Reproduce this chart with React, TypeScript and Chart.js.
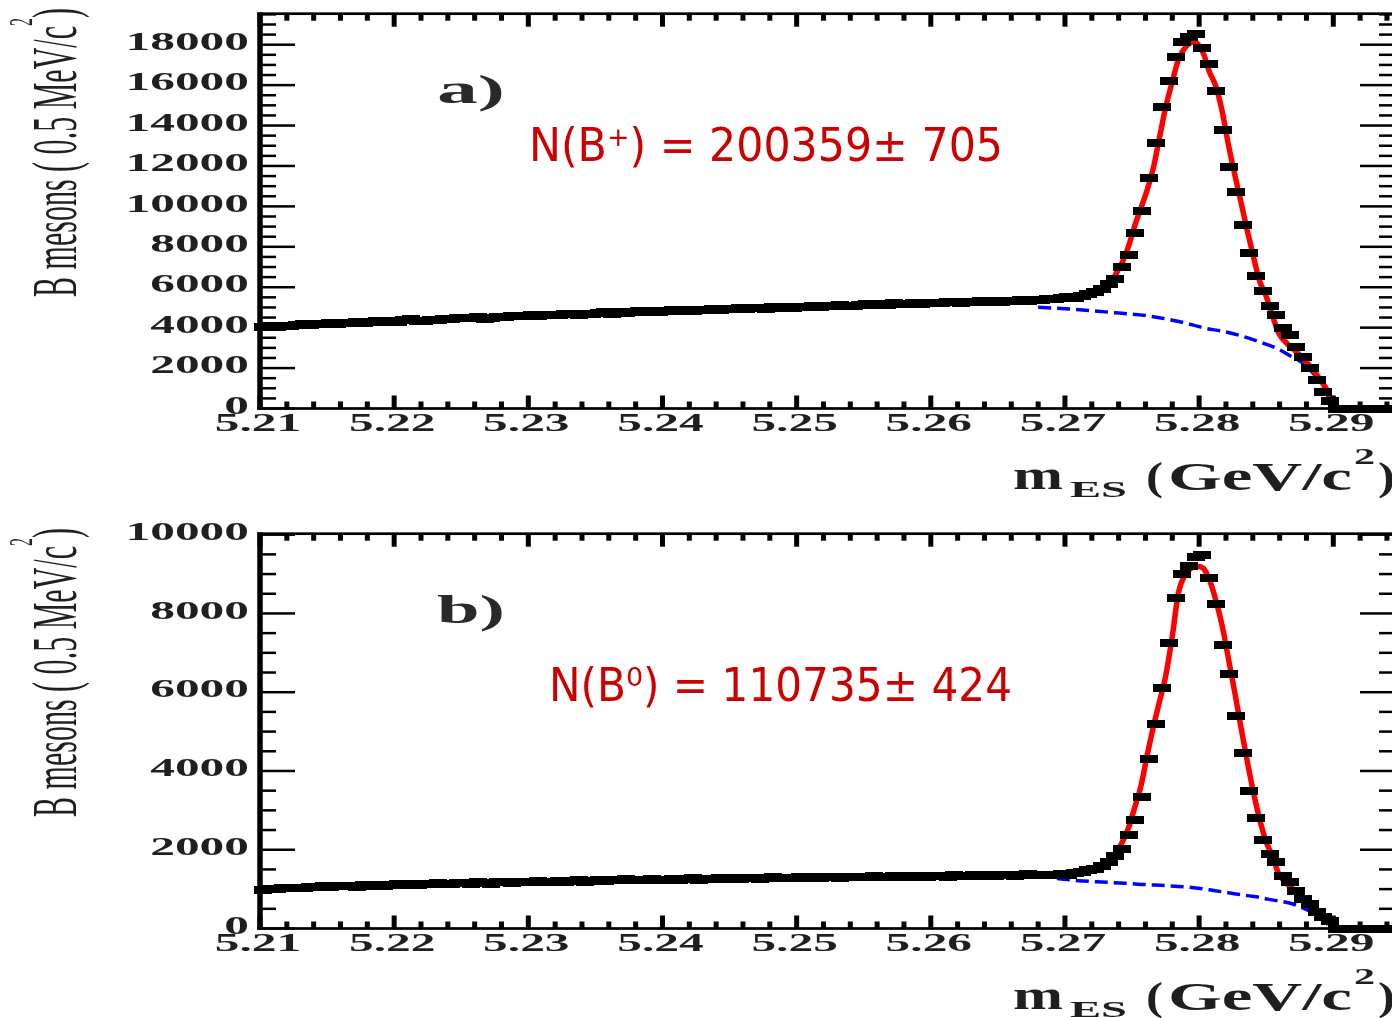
import React, { useEffect, useRef } from "react";
import { Chart, registerables } from "chart.js";

Chart.register(...registerables);

// ---------------- axis set-up ----------------
const X_MIN = 5.21;
const X_MAX = 5.2946;
const BIN_WIDTH = 0.0005;
const X_TICK_VALUES = [5.21, 5.22, 5.23, 5.24, 5.25, 5.26, 5.27, 5.28, 5.29];
const X_TICK_LABELS = ["5.21", "5.22", "5.23", "5.24", "5.25", "5.26", "5.27", "5.28", "5.29"];
const X_MINOR_STEP = 0.002;
const Y_MINOR_STEP = 500;

const TOP_Y_MAX = 19534;
const TOP_Y_TICKS = [0, 2000, 4000, 6000, 8000, 10000, 12000, 14000, 16000, 18000];
const TOP_Y_LABELS = ["0", "2000", "4000", "6000", "8000", "10000", "12000", "14000", "16000", "18000"];
const BOTTOM_Y_MAX = 10025;
const BOTTOM_Y_TICKS = [0, 2000, 4000, 6000, 8000, 10000];
const BOTTOM_Y_LABELS = ["0", "2000", "4000", "6000", "8000", "10000"];

// ---------------- panel a) B+ ----------------
const TOP_COUNTS = [
  4010, 4060, 4040, 4100, 4080, 4130, 4160, 4120, 4200, 4170,
  4220, 4180, 4250, 4230, 4300, 4220, 4270, 4340, 4290, 4330,
  4300, 4390, 4420, 4340, 4330, 4400, 4380, 4450, 4410, 4460,
  4480, 4470, 4520, 4450, 4470, 4540, 4520, 4560, 4600, 4570,
  4630, 4590, 4610, 4650, 4620, 4670, 4660, 4640, 4690, 4700,
  4740, 4790, 4700, 4760, 4720, 4780, 4800, 4770, 4810, 4790,
  4820, 4850, 4800, 4870, 4840, 4880, 4860, 4910, 4880, 4900,
  4920, 4960, 4900, 4950, 4990, 4940, 5000, 4970, 5020, 4990,
  5030, 5010, 5060, 5040, 5090, 5060, 5110, 5070, 5080, 5120,
  5150, 5100, 5170, 5130, 5200, 5150, 5180, 5220, 5190, 5210,
  5240, 5210, 5260, 5290, 5230, 5270, 5250, 5300, 5280, 5310,
  5290, 5340, 5310, 5360, 5330, 5390, 5370,
  5420, 5400, 5470, 5520, 5480, 5560, 5680, 5740, 5930, 6150,
  6420, 6990, 7600, 8680, 9780, 11400, 13150, 14900, 16200, 17400,
  18150, 18380, 18530, 17830, 17050, 15700, 13800, 11950, 10700, 9100,
  7700, 6560, 5800, 5080, 4620, 4000, 3620, 3040, 2560, 1980,
  1420, 800, 380,
  0, 0, 0, 0, 0, 0, 0, 0, 0,
];
const TOP_FIT_X = [
  5.268, 5.27, 5.2715, 5.2725, 5.2733, 5.2738, 5.2743, 5.27475, 5.2752, 5.27567,
  5.27613, 5.27659, 5.27706, 5.27753, 5.278, 5.27845, 5.279, 5.27965, 5.2803, 5.28078,
  5.28125, 5.28171, 5.28217, 5.28264, 5.2831, 5.28357, 5.28403, 5.2845, 5.28496, 5.28544,
  5.28593, 5.2865, 5.287, 5.2875, 5.288, 5.2885, 5.289, 5.2895, 5.2898, 5.29,
];
const TOP_FIT_Y = [
  5400, 5500, 5620, 5800, 6100, 6660, 7270, 8050, 9040, 9930,
  10820, 11900, 13450, 14970, 16170, 17250, 17900, 18150, 17600, 16630,
  15940, 14730, 13100, 11620, 10270, 8850, 7560, 6330, 5620, 4650,
  3730, 3250, 2950, 2650, 2300, 1900, 1450, 950, 500, 0,
];
const TOP_BKG_X = [
  5.268, 5.27, 5.272, 5.274, 5.276, 5.278, 5.2795, 5.2805, 5.2817, 5.283,
  5.2847, 5.2857, 5.2863, 5.2868, 5.2877, 5.2882, 5.2891, 5.2896, 5.2898,
];
const TOP_BKG_Y = [
  5010, 4940, 4840, 4720, 4600, 4370, 4140, 3960, 3830, 3620,
  3250, 3000, 2800, 2600, 2260, 1950, 1250, 600, 0,
];

// ---------------- panel b) B0 ----------------
const BOTTOM_COUNTS = [
  990, 1010, 1000, 1030, 1020, 1040, 1030, 1060, 1050, 1070,
  1060, 1080, 1070, 1090, 1060, 1100, 1080, 1110, 1090, 1100,
  1120, 1100, 1130, 1110, 1140, 1120, 1150, 1130, 1120, 1150,
  1150, 1140, 1170, 1160, 1130, 1170, 1180, 1160, 1190, 1170,
  1180, 1200, 1170, 1190, 1210, 1180, 1200, 1220, 1190, 1210,
  1220, 1210, 1240, 1220, 1250, 1230, 1240, 1220, 1250, 1240,
  1230, 1260, 1240, 1250, 1270, 1240, 1260, 1250, 1280, 1260,
  1270, 1260, 1290, 1270, 1250, 1280, 1300, 1270, 1290, 1280,
  1300, 1280, 1310, 1290, 1300, 1320, 1290, 1310, 1300, 1320,
  1310, 1330, 1300, 1320, 1340, 1310, 1330, 1320, 1340, 1310,
  1330, 1340, 1320, 1350, 1330, 1340, 1360, 1330, 1350, 1340,
  1350, 1370, 1340, 1360, 1380, 1350, 1370,
  1370, 1350, 1380, 1370, 1400, 1440, 1480, 1520, 1590, 1700,
  1830, 2010, 2380, 2760, 3350, 4300, 5200, 6100, 7250, 8400,
  9000, 9200, 9440, 9490, 8900, 8230, 7200, 6450, 5400, 4450,
  3500, 2800, 2250, 1900, 1680, 1330, 1170, 960, 760, 620,
  420, 300, 200,
  0, 0, 0, 0, 0, 0, 0, 0, 0,
];
const BOTTOM_FIT_X = [
  5.268, 5.27, 5.272, 5.273, 5.2737, 5.27424, 5.27472, 5.27517, 5.27567, 5.27614,
  5.27659, 5.27703, 5.2775, 5.278, 5.27845, 5.279, 5.2798, 5.2803, 5.28078, 5.28125,
  5.28171, 5.28217, 5.28264, 5.2831, 5.28357, 5.28403, 5.2845, 5.28496, 5.2855, 5.28593,
  5.2865, 5.287, 5.2875, 5.288, 5.2885, 5.289, 5.2895, 5.2899, 5.29,
];
const BOTTOM_FIT_Y = [
  1360, 1390, 1500, 1640, 1860, 2170, 2540, 3040, 3630, 4420,
  5120, 5740, 6400, 7420, 8510, 9000, 9200, 9150, 8840, 8330,
  7700, 6880, 6030, 5140, 4280, 3490, 2790, 2240, 1800, 1390,
  1150, 1000, 830, 680, 520, 360, 200, 60, 0,
];
const BOTTOM_BKG_X = [
  5.2694, 5.271, 5.2727, 5.2745, 5.276, 5.2775, 5.2796, 5.2812, 5.2826, 5.2836,
  5.2847, 5.2851, 5.2861, 5.2868, 5.2875, 5.2883, 5.289, 5.2895, 5.2898,
];
const BOTTOM_BKG_Y = [
  1270, 1215, 1180, 1150, 1115, 1090, 1035, 960, 885, 835,
  780, 745, 690, 640, 555, 430, 280, 140, 0,
];

// ---------------- layout constants ----------------
const CANVAS_W = 1400;
const AREA_LEFT = 260;
const AREA_RIGHT = 1396;
const AREA_TOP = 13.7;
const AREA_BOTTOM = 408.5;

type PanelCfg = {
  counts: number[];
  fitX: number[];
  fitY: number[];
  bkgX: number[];
  bkgY: number[];
  yMax: number;
  yTicks: number[];
  yLabels: string[];
  tag: string;
  yieldText: string;
  yieldLeft: number;
  yieldBase: number;
  yieldWidth: number;
};

const TICK_FONT = 'bold 26px "Liberation Serif"';
const TEXT_COLOR = "#1f1f1f";

function drawFit(ctx: CanvasRenderingContext2D, text: string, left: number, base: number, font: string, width: number, color: string) {
  ctx.save();
  ctx.font = font;
  ctx.fillStyle = color;
  ctx.textAlign = "left";
  ctx.textBaseline = "alphabetic";
  const w = ctx.measureText(text).width;
  ctx.translate(left, base);
  ctx.scale(width / w, 1);
  ctx.fillText(text, 0, 0);
  ctx.restore();
}

function drawStretch(ctx: CanvasRenderingContext2D, text: string, x: number, y: number, font: string, sx: number, align: CanvasTextAlign) {
  ctx.save();
  ctx.font = font;
  ctx.fillStyle = TEXT_COLOR;
  ctx.textAlign = align;
  ctx.textBaseline = "middle";
  ctx.translate(x, y);
  ctx.scale(sx, 1);
  ctx.fillText(text, 0, 0);
  ctx.restore();
}

function makeFramePlugin(cfg: PanelCfg) {
  return {
    id: "rootFrame",
    afterDraw(chart: any) {
      const ctx: CanvasRenderingContext2D = chart.ctx;
      const a = chart.chartArea;
      const xs = chart.scales.x;
      const ys = chart.scales.y;
      ctx.save();
      ctx.fillStyle = "#000";
      // frame
      ctx.fillRect(a.left - 2.75, a.top - 1.35, a.right - a.left + 5.5, 2.7);
      ctx.fillRect(a.left - 2.75, a.bottom - 1.35, a.right - a.left + 5.5, 2.7);
      ctx.fillRect(a.left - 2.75, a.top - 1.35, 5.5, a.bottom - a.top + 2.7);
      ctx.fillRect(a.right - 2.75, a.top - 1.35, 5.5, a.bottom - a.top + 2.7);
      // x ticks (inside, bottom and top)
      const nx = Math.round((X_MAX - X_MIN) / X_MINOR_STEP);
      for (let k = 0; k <= nx; k++) {
        const v = X_MIN + k * X_MINOR_STEP;
        const px = xs.getPixelForValue(v);
        const len = k % 5 === 0 ? 13 : 7;
        ctx.fillRect(px - 2.5, a.bottom - len, 5, len);
        ctx.fillRect(px - 2.5, a.top, 5, len);
      }
      // y ticks (inside, left and right)
      const ny = Math.floor(cfg.yMax / Y_MINOR_STEP);
      for (let k = 0; k <= ny; k++) {
        const v = k * Y_MINOR_STEP;
        const py = ys.getPixelForValue(v);
        const len = k % 4 === 0 ? 35 : 16;
        ctx.fillRect(a.left, py - 1.25, len, 2.5);
        ctx.fillRect(a.right - len, py - 1.25, len, 2.5);
      }
      ctx.restore();

      // tick labels
      cfg.yTicks.forEach((v, i) => {
        drawStretch(ctx, cfg.yLabels[i], 249, ys.getPixelForValue(v) - 1.5, TICK_FONT, 1.9, "right");
      });
      X_TICK_VALUES.forEach((v, i) => {
        drawStretch(ctx, X_TICK_LABELS[i], xs.getPixelForValue(v) - 2, a.bottom + 16, TICK_FONT, 1.9, "center");
      });

      // x-axis title: m_ES (GeV/c^2)
      const big = 'bold 40px "Liberation Serif"';
      const small = 'bold 24px "Liberation Serif"';
      drawFit(ctx, "m", 1013, a.bottom + 80, big, 50, TEXT_COLOR);
      drawFit(ctx, "ES", 1070, a.bottom + 88, small, 57, TEXT_COLOR);
      drawFit(ctx, "(", 1146, a.bottom + 81, big, 17, TEXT_COLOR);
      drawFit(ctx, "GeV/c", 1168, a.bottom + 81, big, 184, TEXT_COLOR);
      drawFit(ctx, "2", 1354, a.bottom + 55, small, 21, TEXT_COLOR);
      drawFit(ctx, ")", 1378, a.bottom + 81, big, 17, TEXT_COLOR);

      // y-axis title, rotated
      ctx.save();
      ctx.fillStyle = TEXT_COLOR;
      ctx.translate(76, 297);
      ctx.rotate(-Math.PI / 2);
      const yMain = "B mesons ( 0.5 MeV/c";
      const fMain = '64px "Liberation Serif"';
      const fSup = '34px "Liberation Serif"';
      ctx.font = fMain;
      const w1 = ctx.measureText(yMain).width;
      const w3 = ctx.measureText(")").width;
      ctx.font = fSup;
      const w2 = ctx.measureText("2").width;
      const sx = 289 / (w1 + w2 + w3);
      ctx.scale(sx, 1);
      ctx.textBaseline = "alphabetic";
      ctx.font = fMain;
      ctx.fillText(yMain, 0, 0);
      ctx.font = fSup;
      ctx.fillText("2", w1, -44);
      ctx.font = fMain;
      ctx.fillText(")", w1 + w2, 0);
      ctx.restore();

      // panel tag and yield
      drawFit(ctx, cfg.tag, 437, 103, 'bold 40px "Liberation Serif"', 68, "#2a2a2a");
      drawFit(ctx, cfg.yieldText, cfg.yieldLeft, cfg.yieldBase, '46px "DejaVu Sans"', cfg.yieldWidth, "#cc0000");
    },
  };
}

function Panel({ cfg, top, height }: { cfg: PanelCfg; top: number; height: number }) {
  const ref = useRef<HTMLCanvasElement | null>(null);
  useEffect(() => {
    const marker = document.createElement("canvas");
    marker.width = 18;
    marker.height = 8;
    const mctx = marker.getContext("2d")!;
    mctx.fillStyle = "#000";
    mctx.fillRect(0, 0, 18, 8);

    const chart = new Chart(ref.current!, {
      type: "line",
      data: {
        datasets: [
          {
            label: "data",
            data: cfg.counts.map((c, i) => ({ x: X_MIN + BIN_WIDTH * (i + 0.5), y: c })),
            showLine: false,
            pointStyle: marker as any,
            pointRadius: 4,
            pointHoverRadius: 4,
            order: 0,
            clip: false as any,
          },
          {
            label: "fit",
            data: cfg.fitX.map((x, i) => ({ x, y: cfg.fitY[i] })),
            borderColor: "#ff0000",
            borderWidth: 5.5,
            pointRadius: 0,
            cubicInterpolationMode: "monotone",
            fill: false,
            order: 1,
          },
          {
            label: "background",
            data: cfg.bkgX.map((x, i) => ({ x, y: cfg.bkgY[i] })),
            borderColor: "#0000ff",
            borderWidth: 3.5,
            borderDash: [13, 6],
            pointRadius: 0,
            cubicInterpolationMode: "monotone",
            fill: false,
            order: 2,
          },
        ],
      },
      options: {
        animation: false,
        responsive: false,
        events: [],
        layout: {
          padding: {
            left: AREA_LEFT,
            top: AREA_TOP,
            right: CANVAS_W - AREA_RIGHT,
            bottom: height - AREA_BOTTOM,
          },
        },
        scales: {
          x: { type: "linear", min: X_MIN, max: X_MAX, display: false },
          y: { type: "linear", min: 0, max: cfg.yMax, display: false },
        },
        plugins: { legend: { display: false }, tooltip: { enabled: false } },
      },
      plugins: [makeFramePlugin(cfg)],
    });
    return () => chart.destroy();
  }, []);
  return (
    <canvas
      ref={ref}
      width={CANVAS_W}
      height={height}
      style={{ position: "absolute", left: 0, top, width: CANVAS_W, height }}
    />
  );
}

const TOP_CFG: PanelCfg = {
  counts: TOP_COUNTS,
  fitX: TOP_FIT_X,
  fitY: TOP_FIT_Y,
  bkgX: TOP_BKG_X,
  bkgY: TOP_BKG_Y,
  yMax: TOP_Y_MAX,
  yTicks: TOP_Y_TICKS,
  yLabels: TOP_Y_LABELS,
  tag: "a)",
  yieldText: "N(B\u207A) = 200359\u00B1 705",
  yieldLeft: 529,
  yieldBase: 161,
  yieldWidth: 474,
};

const BOTTOM_CFG: PanelCfg = {
  counts: BOTTOM_COUNTS,
  fitX: BOTTOM_FIT_X,
  fitY: BOTTOM_FIT_Y,
  bkgX: BOTTOM_BKG_X,
  bkgY: BOTTOM_BKG_Y,
  yMax: BOTTOM_Y_MAX,
  yTicks: BOTTOM_Y_TICKS,
  yLabels: BOTTOM_Y_LABELS,
  tag: "b)",
  yieldText: "N(B\u2070) = 110735\u00B1 424",
  yieldLeft: 549,
  yieldBase: 181,
  yieldWidth: 463,
};

export default function App() {
  return (
    <div
      style={{
        position: "fixed",
        left: 0,
        top: 0,
        width: 1392,
        height: 1018,
        overflow: "hidden",
        background: "#fff",
      }}
    >
      <Panel cfg={TOP_CFG} top={0} height={520} />
      <Panel cfg={BOTTOM_CFG} top={520} height={498} />
    </div>
  );
}
